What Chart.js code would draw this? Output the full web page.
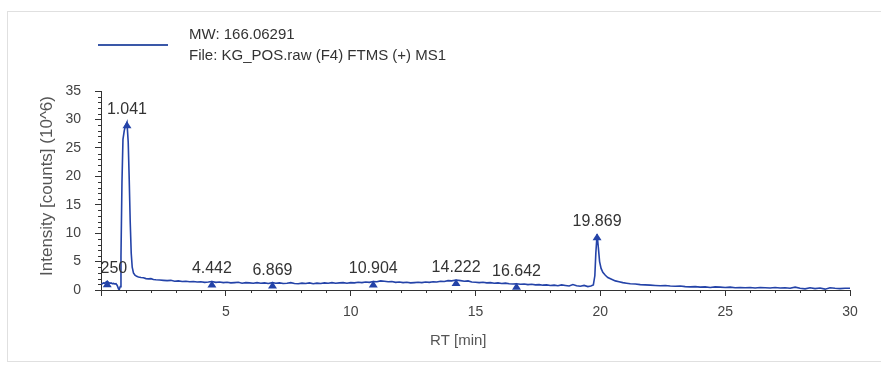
<!DOCTYPE html>
<html>
<head>
<meta charset="utf-8">
<script src="https://cdn.jsdelivr.net/npm/chart.js@4.4.0/dist/chart.umd.min.js"></script>
<style>
  html, body { margin: 0; padding: 0; background: #fff; }
  #wrap { position: relative; width: 881px; height: 365px; overflow: hidden; }
  #frame { position: absolute; left: 7px; top: 11px; width: 900px; height: 349px; border: 1px solid #e0e0e0; }
  #chart { position: absolute; left: 0; top: 0; }
</style>
</head>
<body>
<div id="wrap">
  <div id="frame"></div>
  <canvas id="chart" width="881" height="365"></canvas>
</div>
<script>
// Retention time (min) and intensity (x10^6)
const rtMin = [
  0.00, 0.05, 0.10, 0.15, 0.20, 0.25, 0.30, 0.35, 0.40, 0.45, 0.50, 0.55, 0.60, 0.65, 0.70, 0.73, 0.77, 0.80, 0.84, 0.88,
  0.93, 0.98, 1.04, 1.09, 1.13, 1.17, 1.21, 1.25, 1.30, 1.36, 1.43, 1.50, 1.60, 1.70, 1.80, 1.90, 2.00, 2.10, 2.20, 2.35,
  2.50, 2.65, 2.80, 2.95, 3.10, 3.25, 3.40, 3.55, 3.70, 3.85, 4.00, 4.15, 4.30, 4.44, 4.60, 4.75, 4.90, 5.05, 5.20, 5.35,
  5.50, 5.65, 5.80, 5.95, 6.10, 6.25, 6.40, 6.55, 6.70, 6.87, 7.00, 7.15, 7.30, 7.45, 7.60, 7.75, 7.90, 8.05, 8.20, 8.35,
  8.50, 8.65, 8.80, 8.95, 9.10, 9.25, 9.40, 9.55, 9.70, 9.85, 10.00, 10.15, 10.30, 10.45, 10.60, 10.75, 10.90, 11.05, 11.20, 11.35,
  11.50, 11.65, 11.80, 11.95, 12.10, 12.25, 12.40, 12.55, 12.70, 12.85, 13.00, 13.15, 13.30, 13.45, 13.60, 13.75, 13.90, 14.05, 14.22, 14.40,
  14.55, 14.70, 14.85, 15.00, 15.15, 15.30, 15.45, 15.60, 15.75, 15.90, 16.05, 16.20, 16.35, 16.50, 16.64, 16.80, 16.95, 17.10, 17.25, 17.40,
  17.55, 17.70, 17.85, 18.00, 18.15, 18.30, 18.45, 18.60, 18.75, 18.90, 19.05, 19.20, 19.35, 19.50, 19.62, 19.72, 19.78, 19.82, 19.87, 19.92,
  19.97, 20.03, 20.10, 20.20, 20.30, 20.45, 20.60, 20.75, 20.90, 21.05, 21.20, 21.40, 21.60, 21.80, 22.00, 22.20, 22.40, 22.60, 22.80, 23.00,
  23.20, 23.40, 23.60, 23.80, 24.00, 24.20, 24.40, 24.60, 24.80, 25.00, 25.20, 25.40, 25.60, 25.80, 26.00, 26.20, 26.40, 26.60, 26.80, 27.00,
  27.20, 27.40, 27.60, 27.80, 28.00, 28.20, 28.40, 28.60, 28.80, 29.00, 29.20, 29.40, 29.60, 29.80, 30.00
];
const intensity = [
  1.05, 1.10, 1.25, 1.20, 1.40, 1.55, 1.35, 1.20, 1.25, 1.10, 1.15, 1.05, 1.10, 0.80, 0.20, 0.05, 0.60, 6.00, 19.0, 26.5,
  28.0, 28.9, 29.5, 26.0, 19.5, 12.0, 6.50, 4.00, 3.00, 2.60, 2.40, 2.30, 2.20, 2.15, 2.00, 1.95, 2.00, 1.85, 1.80, 1.75,
  1.70, 1.65, 1.70, 1.55, 1.60, 1.50, 1.55, 1.45, 1.50, 1.40, 1.45, 1.35, 1.40, 1.50, 1.35, 1.40, 1.30, 1.35, 1.25, 1.30,
  1.35, 1.20, 1.30, 1.25, 1.20, 1.30, 1.20, 1.25, 1.15, 1.30, 1.20, 1.25, 1.15, 1.20, 1.30, 1.15, 1.10, 1.20, 1.15, 1.25,
  1.10, 1.20, 1.15, 1.25, 1.20, 1.30, 1.20, 1.25, 1.30, 1.20, 1.30, 1.25, 1.35, 1.30, 1.40, 1.35, 1.50, 1.45, 1.60, 1.55,
  1.45, 1.50, 1.35, 1.40, 1.30, 1.35, 1.25, 1.30, 1.35, 1.30, 1.40, 1.35, 1.45, 1.40, 1.55, 1.50, 1.65, 1.60, 1.75, 1.65,
  1.55, 1.60, 1.40, 1.35, 1.30, 1.35, 1.25, 1.30, 1.20, 1.25, 1.15, 1.20, 1.10, 1.05, 1.10, 1.00, 1.05, 0.95, 1.00, 0.90,
  0.95, 0.85, 0.90, 0.80, 0.85, 0.75, 0.90, 0.80, 0.70, 0.95, 0.75, 0.65, 0.80, 0.60, 0.70, 0.90, 2.50, 6.50, 9.80, 7.50,
  5.00, 3.80, 3.10, 2.60, 2.20, 1.90, 1.60, 1.45, 1.30, 1.20, 1.10, 1.05, 0.95, 0.90, 0.85, 0.80, 0.75, 0.80, 0.70, 0.65,
  0.70, 0.60, 0.55, 0.60, 0.50, 0.55, 0.45, 0.55, 0.50, 0.45, 0.50, 0.40, 0.45, 0.40, 0.45, 0.35, 0.45, 0.40, 0.35, 0.45,
  0.35, 0.40, 0.30, 0.50, 0.30, 0.20, 0.40, 0.25, 0.35, 0.15, 0.40, 0.30, 0.25, 0.30, 0.30
];

// Labelled peaks
const peakRt = [0.250, 1.041, 4.442, 6.869, 10.904, 14.222, 16.642, 19.869];
const peakIntensity = [1.55, 29.5, 1.50, 1.30, 1.50, 1.75, 1.10, 9.80];

const xMax = 30;
const yMax = 35;
const majorStep = 5;
const legendLines = ['MW: 166.06291', 'File: KG_POS.raw (F4) FTMS (+) MS1'];
const xTitle = 'RT [min]';
const yTitle = 'Intensity [counts] (10^6)';

const lineColor = '#2443a8';
const fontFamily = '"Liberation Sans", Arial, sans-serif';

// Minor tick marks every 1 unit
const minorTicks = {
    id: 'minorTicks',
    afterDraw(chart) {
        const { ctx, scales: { x, y } } = chart;
        ctx.save();
        ctx.strokeStyle = '#333';
        ctx.lineWidth = 1;
        ctx.beginPath();
        for (let v = 1; v < xMax; v++) {
            if (v % majorStep === 0) continue;
            const px = Math.round(x.getPixelForValue(v)) + 0.5;
            ctx.moveTo(px, x.top);
            ctx.lineTo(px, x.top + 3);
        }
        for (let v = 1; v < yMax; v++) {
            if (v % majorStep === 0) continue;
            const py = Math.round(y.getPixelForValue(v)) + 0.5;
            ctx.moveTo(y.right - 3, py);
            ctx.lineTo(y.right, py);
        }
        ctx.stroke();
        ctx.restore();
    }
};

// Peak markers and RT labels
const peakMarks = {
    id: 'peakMarks',
    afterDatasetsDraw(chart) {
        const { ctx, chartArea: a, scales: { x, y } } = chart;
        ctx.save();
        ctx.beginPath();
        ctx.rect(a.left, 0, a.right - a.left, chart.height);
        ctx.clip();
        ctx.font = '16px ' + fontFamily;
        ctx.textAlign = 'center';
        ctx.textBaseline = 'alphabetic';
        peakRt.forEach((rt, i) => {
            const px = x.getPixelForValue(rt);
            const py = y.getPixelForValue(peakIntensity[i]);
            ctx.fillStyle = lineColor;
            ctx.beginPath();
            ctx.moveTo(px, py - 1);
            ctx.lineTo(px - 4.5, py + 6);
            ctx.lineTo(px + 4.5, py + 6);
            ctx.closePath();
            ctx.fill();
            ctx.fillStyle = '#333';
            ctx.fillText(rt.toFixed(3), px, py - 8);
        });
        ctx.restore();
    }
};

// Legend and axis titles
const texts = {
    id: 'texts',
    afterDraw(chart) {
        const { ctx, chartArea: a } = chart;
        ctx.save();
        ctx.strokeStyle = '#3a58a8';
        ctx.lineWidth = 2;
        ctx.beginPath();
        ctx.moveTo(98, 45);
        ctx.lineTo(168, 45);
        ctx.stroke();

        ctx.fillStyle = '#333';
        ctx.font = '15px ' + fontFamily;
        ctx.textAlign = 'left';
        ctx.textBaseline = 'alphabetic';
        ctx.fillText(legendLines[0], 189, 39);
        ctx.fillText(legendLines[1], 189, 60);

        ctx.fillStyle = '#555';
        ctx.textAlign = 'center';
        ctx.textBaseline = 'middle';
        ctx.fillText(xTitle, a.left + (a.right - a.left) * 0.477, 341);

        ctx.font = '17px ' + fontFamily;
        ctx.translate(47, 186);
        ctx.rotate(-Math.PI / 2);
        ctx.fillText(yTitle, 0, 0);
        ctx.restore();
    }
};

new Chart(document.getElementById('chart'), {
    type: 'line',
    data: {
        datasets: [{
            data: rtMin.map((t, i) => ({ x: t, y: intensity[i] })),
            borderColor: lineColor,
            borderWidth: 1.6,
            pointRadius: 0,
            tension: 0,
            fill: false
        }]
    },
    options: {
        responsive: false,
        animation: false,
        layout: { padding: { top: 91, right: 31, left: 0, bottom: 0 } },
        plugins: {
            legend: { display: false },
            tooltip: { enabled: false }
        },
        scales: {
            x: {
                type: 'linear',
                min: 0,
                max: xMax,
                afterFit: (s) => { s.height = 75; },
                ticks: {
                    stepSize: majorStep,
                    autoSkip: false,
                    maxRotation: 0,
                    color: '#444',
                    padding: 8,
                    font: { size: 14, family: fontFamily },
                    callback: (v) => v === 0 ? '' : v
                },
                grid: { drawOnChartArea: false, tickLength: 6, color: '#333' },
                border: { color: '#333' }
            },
            y: {
                min: 0,
                max: yMax,
                afterFit: (s) => { s.width = 101; },
                ticks: {
                    stepSize: majorStep,
                    autoSkip: false,
                    color: '#444',
                    padding: 14,
                    font: { size: 14, family: fontFamily }
                },
                grid: { drawOnChartArea: false, tickLength: 6, color: '#333' },
                border: { color: '#333' }
            }
        }
    },
    plugins: [minorTicks, peakMarks, texts]
});
</script>
</body>
</html>
